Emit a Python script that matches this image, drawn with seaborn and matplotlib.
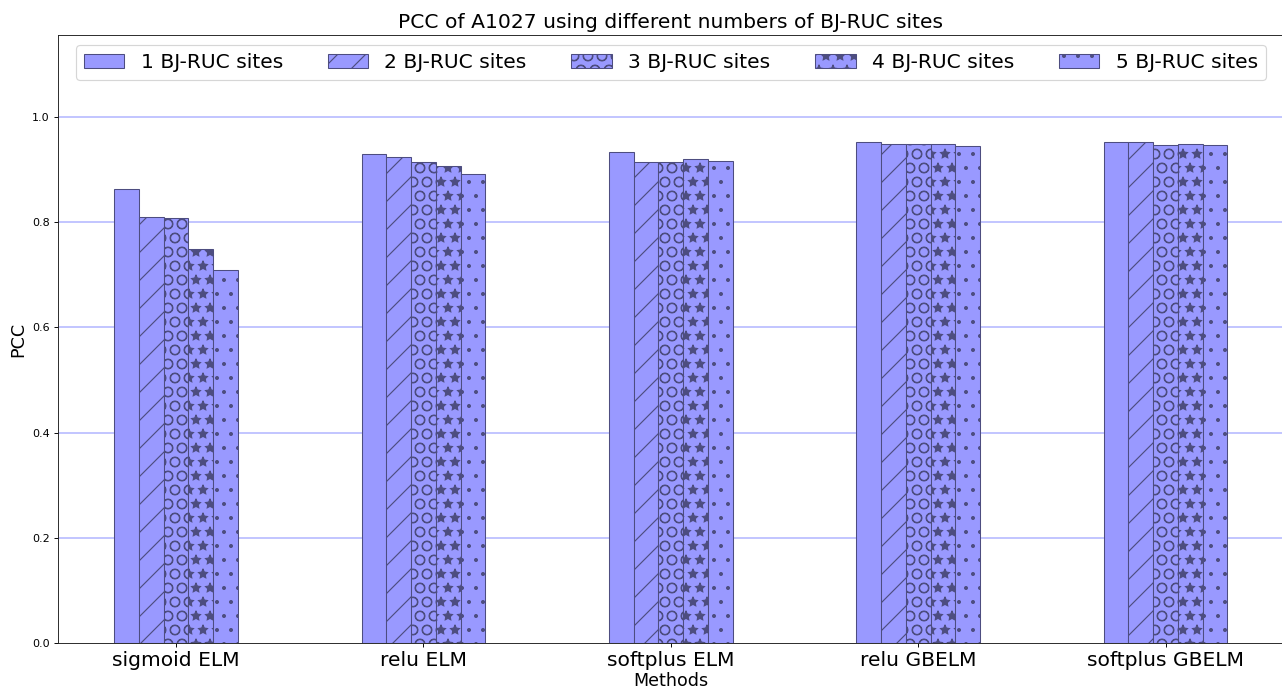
import matplotlib
matplotlib.use("Agg")
import matplotlib.pyplot as plt
import seaborn as sns
import pandas as pd

methods = ["sigmoid ELM", "relu ELM", "softplus ELM", "relu GBELM", "softplus GBELM"]
site_labels = ["1 BJ-RUC sites", "2 BJ-RUC sites", "3 BJ-RUC sites",
               "4 BJ-RUC sites", "5 BJ-RUC sites"]
pcc_1 = [0.862, 0.929, 0.934, 0.953, 0.953]
pcc_2 = [0.810, 0.924, 0.914, 0.949, 0.952]
pcc_3 = [0.808, 0.915, 0.915, 0.948, 0.947]
pcc_4 = [0.748, 0.906, 0.920, 0.949, 0.948]
pcc_5 = [0.709, 0.892, 0.916, 0.945, 0.946]
hatches = ["", "/", "O", "*", "."]
yticks = [0.0, 0.2, 0.4, 0.6, 0.8, 1.0]

series = [pcc_1, pcc_2, pcc_3, pcc_4, pcc_5]
rows = []
for lab, vals in zip(site_labels, series):
    for m, v in zip(methods, vals):
        rows.append({"Methods": m, "PCC": v, "sites": lab})
df = pd.DataFrame(rows)

DPI = 84
fig = plt.figure(figsize=(1282 / DPI, 697 / DPI), dpi=DPI)
ax = fig.add_axes([0.04524, 0.07704, 0.95601, 0.87318])

face = "#9999ff"
edge = "#4d4d80"
sns.barplot(data=df, x="Methods", y="PCC", hue="sites", order=methods,
            hue_order=site_labels, palette=[face] * 5, width=0.5, gap=0,
            saturation=1, edgecolor=edge, linewidth=0.9, legend=False, ax=ax,
            zorder=3)

for cont, h in zip(ax.containers, hatches):
    for p in cont.patches:
        p.set_hatch(h)
        p.set_facecolor(face)
        p.set_edgecolor(edge)

ax.set_xlim(-0.477, 4.477)
ax.set_ylim(0, 1.156)
ax.set_yticks(yticks)
ax.set_yticklabels([f"{t:.1f}" for t in yticks], fontsize=9.5)
ax.tick_params(axis="x", labelsize=17.4)
ax.yaxis.grid(False)
ax.xaxis.grid(False)
for t in yticks[1:]:
    ax.axhline(t, color="#b0b4ff", linewidth=1.3, zorder=0.5)
for s in ax.spines.values():
    s.set_color("#222222")
    s.set_zorder(5)

ax.set_title("PCC of A1027 using different numbers of BJ-RUC sites", fontsize=17.4)
ax.set_xlabel("Methods", fontsize=15, labelpad=1)
ax.set_ylabel("PCC", fontsize=15)

ax.legend(ax.containers, site_labels, loc="upper center", ncol=5,
          fontsize=17.4, columnspacing=2.2, frameon=True)

fig.savefig("out.png", dpi=DPI)
